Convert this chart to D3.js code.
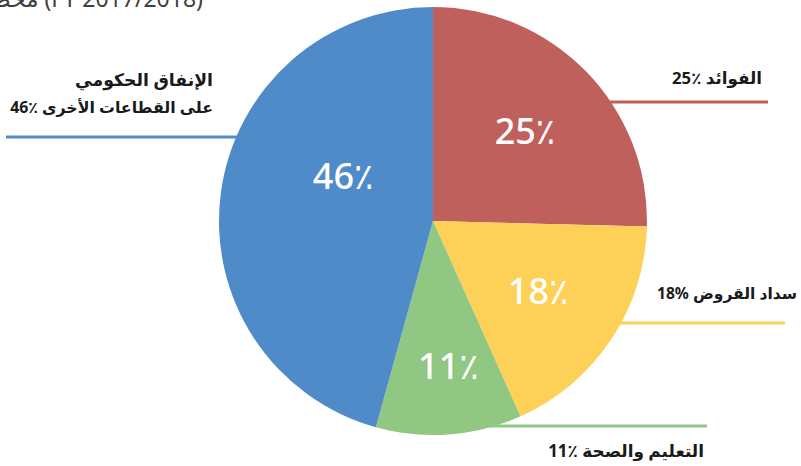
<!DOCTYPE html>
<html>
<head>
<meta charset="utf-8">
<script src="https://cdn.jsdelivr.net/npm/d3@7"></script>
<style>
  body { margin: 0; background: #fff; }
  svg { display: block; font-family: "Noto Sans", "DejaVu Sans", sans-serif; }
</style>
</head>
<body>
<div id="chart"></div>
<script>
// slice data, clockwise from 12 o'clock
const categories = ["الفوائد", "سداد القروض", "التعليم والصحة", "الإنفاق الحكومي على القطاعات الأخرى"];
const values = [25.4, 17.9, 11.0, 45.7];
const sliceLabels = ["25٪", "18٪", "11٪", "46٪"];
const legendLines = [
    ["25٪ الفوائد"],
    ["18% سداد القروض"],
    ["11٪ التعليم والصحة"],
    ["الإنفاق الحكومي", "46٪ على القطاعات الأخرى"]
];
const colors = ["#c0605c", "#fdd058", "#90c783", "#508bc9"];
const title = "مخصصات الإنفاق العام (FY 2017/2018)";

const width = 801, height = 466;
const cx = 433, cy = 221, radius = 214;

const svg = d3.select("#chart").append("svg")
    .attr("width", width)
    .attr("height", height);

// cut-off title at the very top
svg.append("text")
    .attr("x", 203)
    .attr("y", 7)
    .attr("text-anchor", "end")
    .style("font-size", "23px")
    .style("fill", "#404040")
    .text(title);

// leader lines + labels (layout only), w = target text widths per line
const legendLayout = [
    { y: 102, x1: 768, tx: 762, ty: 84, w: [90] },
    { y: 323, x1: 785, tx: 797, ty: 299, w: [140] },
    { y: 426, x1: 707, tx: 704, ty: 457, w: [156] },
    { y: 137, x1: 6, tx: 213, ty: 86, w: [138, 203] }
];

const legend = svg.append("g");
legendLayout.forEach(function (l, i) {
    legend.append("line")
        .attr("x1", l.x1).attr("x2", cx)
        .attr("y1", l.y).attr("y2", l.y)
        .style("stroke", colors[i])
        .style("stroke-width", 3);
    legendLines[i].forEach(function (s, j) {
        let t = legend.append("text")
            .attr("x", l.tx)
            .attr("y", l.ty + j * 27)
            .attr("text-anchor", "end")
            .style("font-size", "18px")
            .style("font-weight", "bold")
            .style("fill", "#1a1a1a")
            .text(s);
        // fit font size to width seen in the picture
        let len = t.node().getComputedTextLength();
        if (len > 0) t.style("font-size", (18 * l.w[j] / len).toFixed(2) + "px");
    });
});

const pie = d3.pie().sort(null).value(d => d)(values);
const arc = d3.arc().innerRadius(0).outerRadius(radius);

const g = svg.append("g").attr("transform", "translate(" + cx + "," + cy + ")");

g.selectAll("path")
    .data(pie)
    .enter().append("path")
    .attr("d", arc)
    .style("fill", (d, i) => colors[i]);

// label radius per slice (fraction of radius) and angle nudge
const labelR = [0.6, 0.59, 0.68, 0.47];
const labelShift = [0, 0, -0.03, 0.33];

g.selectAll(".val")
    .data(pie)
    .enter().append("text")
    .attr("class", "val")
    .attr("transform", function (d, i) {
        const a = (d.startAngle + d.endAngle) / 2 + labelShift[i];
        const r = radius * labelR[i];
        return "translate(" + (Math.sin(a) * r) + "," + (-Math.cos(a) * r) + ")";
    })
    .attr("text-anchor", "middle")
    .attr("dy", "0.36em")
    .style("font-size", "36px")
    .style("font-weight", 500)
    .style("fill", "#fff")
    .text((d, i) => sliceLabels[i]);
</script>
</body>
</html>
